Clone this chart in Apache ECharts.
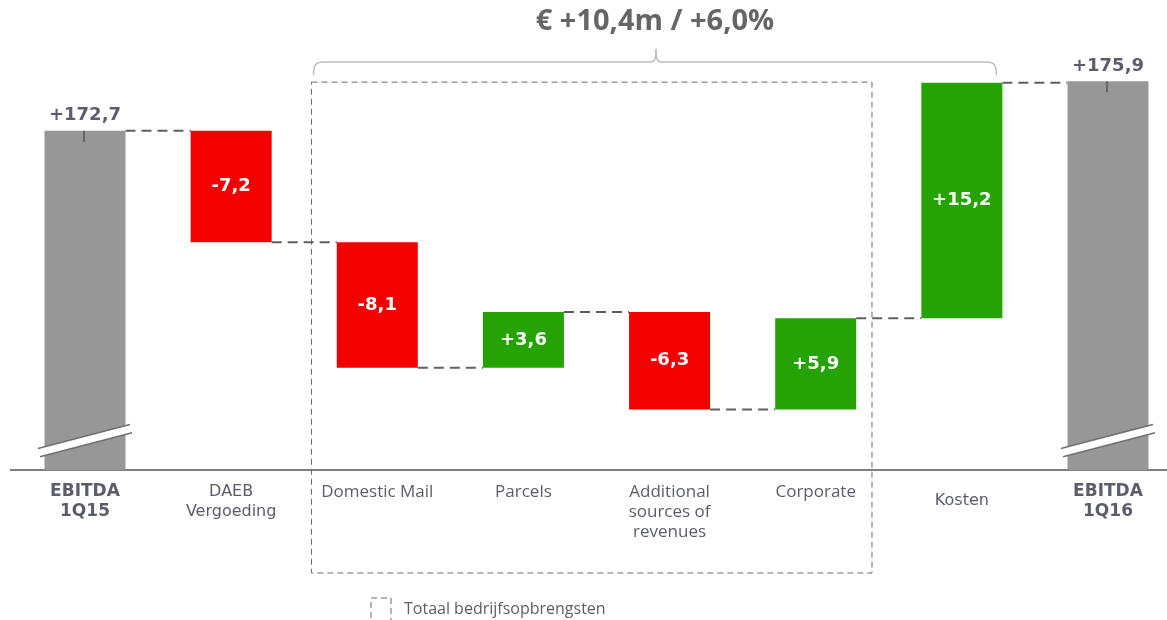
<!DOCTYPE html>
<html>
<head>
<meta charset="utf-8">
<title>EBITDA 1Q15 - 1Q16</title>
<script src="https://cdn.jsdelivr.net/npm/echarts@6.0.0/dist/echarts.min.js"></script>
<style>
  html, body { margin: 0; padding: 0; background: #fff; }
  #chart { width: 1167px; height: 620px; }
</style>
</head>
<body>
<div id="chart"></div>
<script>
// ---- data ----
const categories = ['EBITDA\n1Q15', 'DAEB\nVergoeding', 'Domestic Mail', 'Parcels',
  'Additional\nsources of\nrevenues', 'Corporate', 'Kosten', 'EBITDA\n1Q16'];
const startValue = 172.7;
const endValue = 175.9;
const deltas = [-7.2, -8.1, 3.6, -6.3, 5.9, 15.2];
const summaryText = '€ +10,4m / +6,0%';
const legendText = 'Totaal bedrijfsopbrengsten';
const boxedFrom = 2, boxedTo = 5;   // categories inside the dashed box
const breakValue = 152.7;           // where the axis break is drawn on the totals

// ---- look ----
const Y_MIN = 150.8, Y_MAX = 179.2;
const C_TOTAL = '#979797', C_NEG = '#f20000', C_POS = '#24a303';
const C_TEXT = '#5b5d6b';
const BAR_W = 81;
const labelKind = ['b', 'v', 'c', 'c', 'c', 'c', 'k', 'b'];

function fmt(v, sign) {
    let s = Math.abs(v).toFixed(1).replace('.', ',');
    if (sign) s = (v < 0 ? '-' : '+') + s;
    return s;
}

// waterfall geometry: transparent base + visible part
let placeholder = [], visible = [], levels = [];
let running = startValue;
function totalItem(v) {
    return {
        value: v - Y_MIN,
        itemStyle: { color: C_TOTAL },
        label: { show: true, position: 'top', distance: 6, color: C_TEXT, formatter: '+' + fmt(v) }
    };
}
placeholder.push(Y_MIN);
visible.push(totalItem(startValue));
levels.push([0, running]);
deltas.forEach((d, i) => {
    placeholder.push(Math.min(running, running + d));
    visible.push({
        value: Math.abs(d),
        itemStyle: { color: d < 0 ? C_NEG : C_POS },
        label: { show: true, position: 'inside', color: '#fff', formatter: fmt(d, true) }
    });
    running = running + d;
    levels.push([i + 1, running]);
});
placeholder.push(Y_MIN);
visible.push(totalItem(endValue));
let totals = [[0, breakValue, startValue], [categories.length - 1, breakValue, endValue]];

let chart = echarts.init(document.getElementById('chart'));

chart.setOption({
    animation: false,
    grid: { left: 85, right: 59, top: 30, bottom: 150 },
    xAxis: {
        type: 'category',
        data: categories,
        boundaryGap: false,
        axisTick: { show: false },
        axisLine: { show: false },
        axisLabel: {
            interval: 0,
            margin: 12,
            formatter: function (value, index) {
                let k = labelKind[index];
                return value.split('\n').map(s => '{' + k + '|' + s + '}').join('\n');
            },
            rich: {
                b: { fontFamily: 'DejaVu Sans', fontWeight: 'bold', fontSize: 17, color: C_TEXT, lineHeight: 20 },
                v: { fontFamily: 'DejaVu Sans', fontSize: 16, color: C_TEXT, lineHeight: 20 },
                k: { fontFamily: 'DejaVu Sans', fontSize: 16, color: C_TEXT, lineHeight: 20, padding: [17, 0, 0, 0] },
                c: { fontFamily: 'Open Sans', fontSize: 17, color: C_TEXT, lineHeight: 20 }
            }
        }
    },
    yAxis: { type: 'value', min: Y_MIN, max: Y_MAX, show: false, splitLine: { show: false } },
    series: [
        {
            type: 'bar', stack: 'wf', barWidth: BAR_W, silent: true, clip: false,
            itemStyle: { color: 'transparent' },
            data: placeholder
        },
        {
            type: 'bar', stack: 'wf', barWidth: BAR_W, clip: false,
            label: { fontFamily: 'DejaVu Sans', fontWeight: 'bold', fontSize: 18 },
            data: visible
        },
        {
            // dashed connectors between bars
            type: 'custom',
            data: levels,
            renderItem: function (params, api) {
                let p = api.coord([api.value(0), api.value(1)]);
                let w = api.size([1, 0])[0];
                return {
                    type: 'line',
                    shape: { x1: p[0] + BAR_W / 2, y1: p[1], x2: p[0] + w - BAR_W / 2, y2: p[1] },
                    style: { stroke: '#606060', lineWidth: 2, lineDash: [10, 6] }
                };
            }
        },
        {
            // axis break marks and value ticks on the totals
            type: 'custom',
            data: totals,
            z: 5,
            renderItem: function (params, api) {
                let c = api.coord([api.value(0), api.value(1)]);
                let top = api.coord([api.value(0), api.value(2)]);
                let hx = 46, hy = 12;
                return {
                    type: 'group',
                    children: [
                        { type: 'line', shape: { x1: c[0] - hx, y1: c[1] + hy, x2: c[0] + hx, y2: c[1] - hy },
                          style: { stroke: '#707070', lineWidth: 10 } },
                        { type: 'line', shape: { x1: c[0] - hx - 2, y1: c[1] + hy + 0.5, x2: c[0] + hx + 2, y2: c[1] - hy - 0.5 },
                          style: { stroke: '#fff', lineWidth: 7 } },
                        { type: 'line', shape: { x1: top[0] - 1, y1: top[1], x2: top[0] - 1, y2: top[1] + 11 },
                          style: { stroke: '#555', lineWidth: 1.5 } }
                    ]
                };
            }
        }
    ]
});

// annotations placed from the axis positions
let px = (i, v) => chart.convertToPixel({ gridIndex: 0 }, [i, v]);
let cw = px(1, endValue)[0] - px(0, endValue)[0];
let baseY = px(0, Y_MIN)[1];
let boxL = px(boxedFrom, endValue)[0] - cw * 0.45;
let boxR = px(boxedTo, endValue)[0] + cw * 0.385;
let boxT = px(0, endValue)[1] + 1;
let boxB = 573;
let brL = boxL + 2;
let brR = px(categories.length - 2, endValue)[0] + BAR_W / 2 - 6;
let brM = (brL + brR) / 2 + 1;
let yH = 62, yE = 75, yP = 49;
let braceStyle = { fill: 'none', stroke: '#bdbdbd', lineWidth: 1.5 };
function bez(x1, y1, c1x, c1y, c2x, c2y, x2, y2) {
    return { type: 'bezierCurve', shape: { x1: x1, y1: y1, cpx1: c1x, cpy1: c1y, cpx2: c2x, cpy2: c2y, x2: x2, y2: y2 }, style: braceStyle };
}
function seg(x1, y1, x2, y2, style) {
    return { type: 'line', shape: { x1: x1, y1: y1, x2: x2, y2: y2 }, style: style || braceStyle };
}

chart.setOption({
    graphic: [
        // base axis line
        seg(10, baseY, 1167, baseY, { stroke: '#555', lineWidth: 1.5 }),
        { type: 'rect', shape: { x: boxL, y: boxT, width: boxR - boxL, height: boxB - boxT },
          style: { fill: 'none', stroke: '#6a6a6a', lineWidth: 1, lineDash: [6, 4] } },
        // brace
        bez(brL, yE, brL, yH + 3, brL + 2, yH, brL + 10, yH),
        seg(brL + 10, yH, brM - 6, yH),
        bez(brM - 6, yH, brM - 1, yH, brM, yH - 3, brM, yP),
        bez(brM, yP, brM, yH - 3, brM + 1, yH, brM + 6, yH),
        seg(brM + 6, yH, brR - 10, yH),
        bez(brR - 10, yH, brR - 2, yH, brR, yH + 3, brR, yE),
        { type: 'text', x: brM - 1, y: 22,
          style: { text: summaryText, align: 'center', verticalAlign: 'middle', fill: '#666',
                   fontFamily: 'Open Sans', fontWeight: 'bold', fontSize: 29 } },
        // legend
        { type: 'rect', shape: { x: 371, y: 598, width: 20, height: 30 },
          style: { fill: 'none', stroke: '#6a6a6a', lineWidth: 1, lineDash: [6, 4] } },
        { type: 'text', x: 404, y: 609,
          style: { text: legendText, align: 'left', verticalAlign: 'middle', fill: C_TEXT,
                   fontFamily: 'Open Sans', fontSize: 16 } }
    ]
});
</script>
</body>
</html>
